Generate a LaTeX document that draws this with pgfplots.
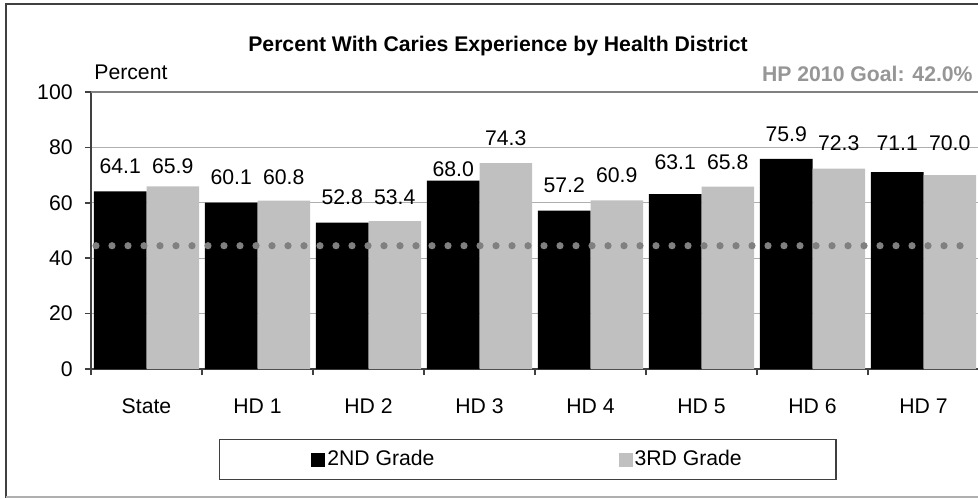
\documentclass[border=0pt]{standalone}
\usepackage{pgfplots}
\usepackage{pgfplotstable}
\pgfplotsset{compat=1.18}
\usepackage{fontspec}
\setmainfont{Liberation Sans}
\newcommand\fs{\fontsize{10.6}{12.7}\selectfont}
\definecolor{barg}{RGB}{192,192,192}
\definecolor{goal}{RGB}{128,128,128}
\definecolor{hpgray}{RGB}{150,150,150}
\definecolor{gridg}{RGB}{175,175,175}
\definecolor{axisg}{RGB}{64,64,64}

% x = district index, y = percent, dy = label lift above bar (pt)
\pgfplotstableread{
x y dy
0 64.1 8.7
1 60.1 8.75
2 52.8 8.85
3 68.0 1.8
4 57.2 8.8
5 63.1 12
6 75.9 8.4
7 71.1 10.5
}\gradetwo
\pgfplotstableread{
x y dy
0 65.9 6.25
1 60.8 7.8
2 53.4 8
3 74.3 8.6
4 60.9 8.65
5 65.8 8.35
6 72.3 8.85
7 70.0 12
}\gradethree

\begin{document}
\begin{tikzpicture}[font=\fs]
\path[use as bounding box] (0,0) rectangle (489pt,249pt);
% outer frame
\draw[axisg, line width=1pt] (2.75pt,0) -- (2.75pt,247pt) -- (489pt,247pt);
\draw[gridg, line width=1pt] (2.75pt,0.5pt) -- (489pt,0.5pt);

\begin{axis}[
  at={(45.5pt,64.5pt)}, anchor=south west,
  scale only axis, width=444pt, height=138.5pt,
  xmin=-0.5, xmax=7.5, ymin=0, ymax=100,
  axis x line*=bottom, axis y line*=left,
  axis line style={axisg, line width=0.8pt},
  xtick={0,...,7},
  xticklabels={State,HD 1,HD 2,HD 3,HD 4,HD 5,HD 6,HD 7},
  major x tick style={draw=none},
  minor xtick={-0.5,0.5,...,7.5},
  minor x tick style={axisg, line width=0.8pt},
  ytick={0,20,...,100},
  y tick style={axisg, line width=0.8pt},
  tick align=outside,
  minor tick length=3pt, major tick length=3pt,
  ymajorgrids, major grid style={gridg, line width=0.5pt},
  tick label style={font=\fs},
  /pgf/number format/assume math mode=true,
  xticklabel style={anchor=base, inner sep=0pt, yshift=-19pt},
  yticklabel style={anchor=east, inner sep=0pt, xshift=-6pt},
  legend columns=2,
  legend style={at={(0.4916,0)}, anchor=center, yshift=-45.25pt, font=\fs,
    draw=axisg, line width=0.8pt, inner xsep=46pt, inner ysep=4.5pt,
    nodes={inner sep=1pt},
    /tikz/every even column/.append style={column sep=91pt}},
  mybar/.style={ybar, bar width=0.474, draw=none,
    legend image code/.code={\fill[##1,draw=none] (0pt,-3.5pt) rectangle (7pt,3.5pt);},
    visualization depends on={\thisrow{dy}\as\dy},
    nodes near coords={\pgfmathprintnumber[fixed,fixed zerofill,precision=1]{\pgfplotspointmeta}},
    every node near coord/.append style={font=\fs, inner sep=0pt, text depth=0pt, yshift=\dy pt, text=black}},
]
\addplot[mybar, bar shift=-0.237, fill=black,
  every node near coord/.append style={xshift=-13.15pt}] table[x=x,y=y] {\gradetwo};
\addlegendentry{2ND Grade}
\addplot[mybar, bar shift=0.237, fill=barg,
  every node near coord/.append style={xshift=13.15pt}] table[x=x,y=y] {\gradethree};
\addlegendentry{3RD Grade}
% HP 2010 goal line
\addplot[goal, line width=3.6pt, line cap=round, dash pattern=on 0pt off 8pt, forget plot]
  coordinates {(-0.455,44.5) (7.34,44.5)};
\draw[gray, line width=1pt] (rel axis cs:0,1) -- (rel axis cs:1,1);
\end{axis}

\node[anchor=base, font=\fs\bfseries] at (249pt,223pt) {Percent With Caries Experience by Health District};
\node[anchor=base west, inner sep=0pt] at (47pt,209pt) {Percent};
\node[anchor=base east, inner sep=0pt, font=\fs\bfseries, text=hpgray] at (486.5pt,208pt) {HP 2010 Goal: 42.0\%};
\end{tikzpicture}
\end{document}
